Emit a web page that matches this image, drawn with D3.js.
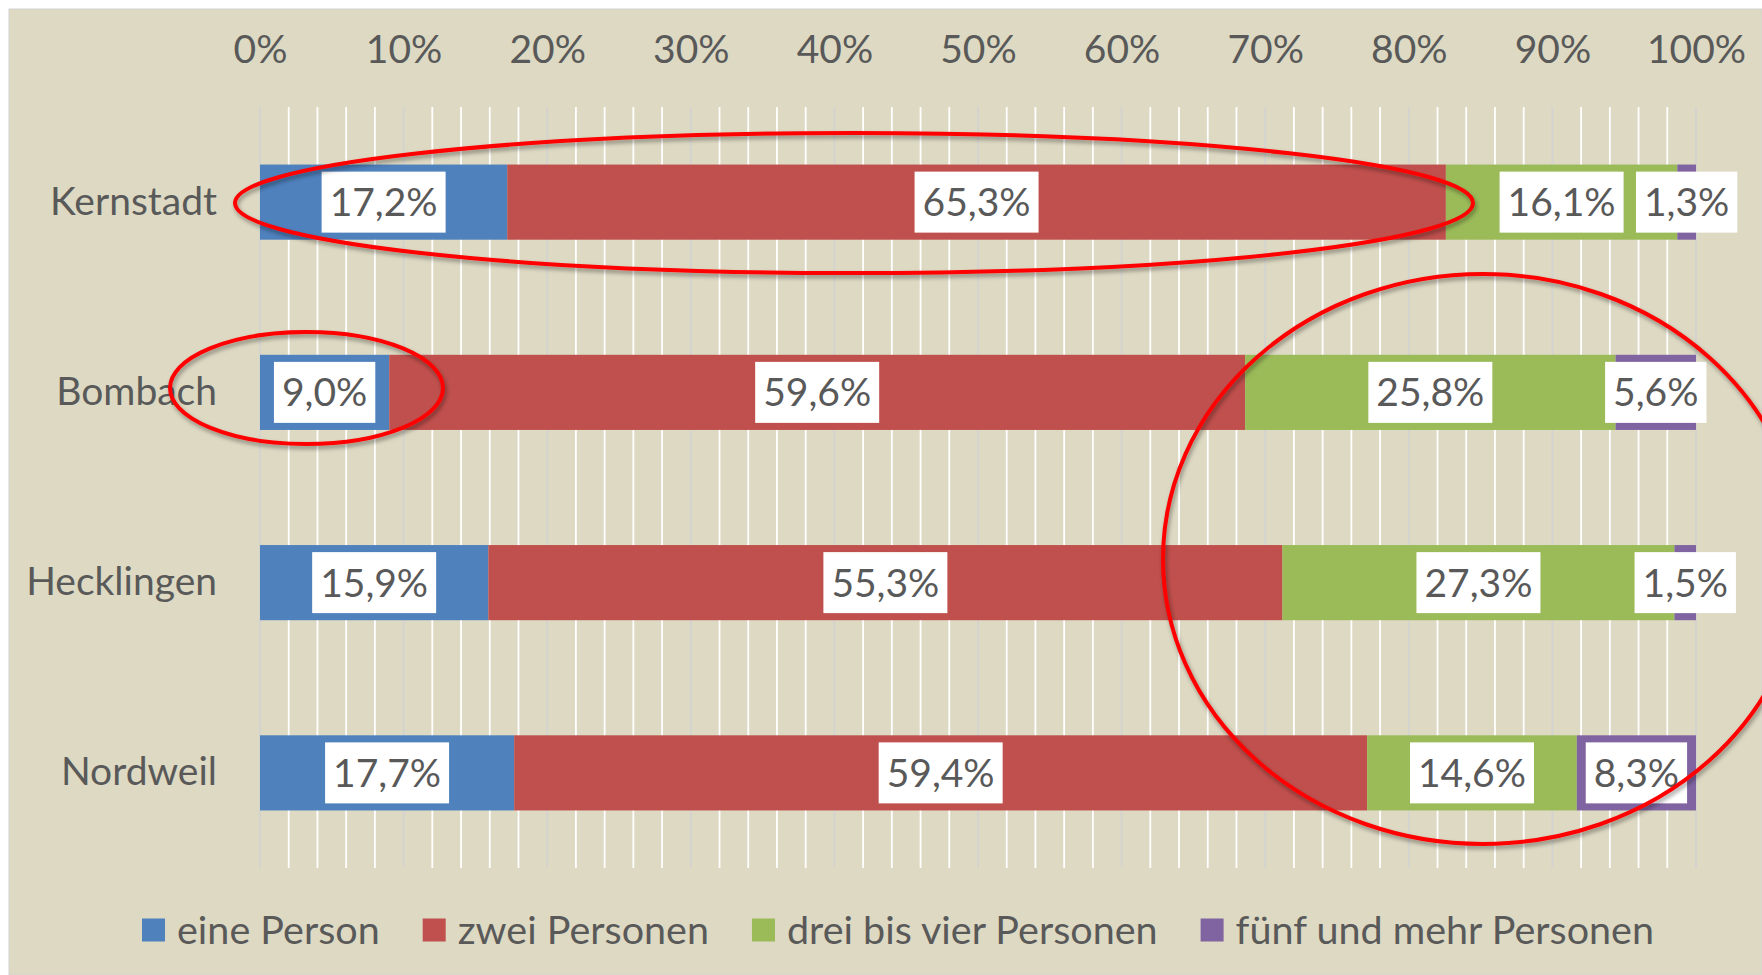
<!DOCTYPE html>
<html>
  <head>
    <meta charset="utf-8">
    <script type="text/javascript" src="https://d3js.org/d3.v7.min.js"></script>
    <style>
      body { margin:0; background:#fff; }
      text { font-family: Lato, "Open Sans", sans-serif; fill:#595959; }
    </style>
  </head>
  <body>
  </body>
  <script>

var orte = ["Kernstadt", "Bombach", "Hecklingen", "Nordweil"];
var gruppen = ["eine Person", "zwei Personen", "drei bis vier Personen", "fünf und mehr Personen"];
var farben = ["#4F81BD", "#C0504D", "#9BBB59", "#8064A2"];

// Anteile in % je Ort, Reihenfolge wie gruppen
var einePerson   = [17.2,  9.0, 15.9, 17.7];
var zweiPersonen = [65.3, 59.6, 55.3, 59.4];
var dreiBisVier  = [16.1, 25.8, 27.3, 14.6];
var fuenfUndMehr = [ 1.3,  5.6,  1.5,  8.3];

var achsenTicks = [0, 0.1, 0.2, 0.3, 0.4, 0.5, 0.6, 0.7, 0.8, 0.9, 1];

var W = 1762, H = 975;
var fs = 39;

var serien = [einePerson, zweiPersonen, dreiBisVier, fuenfUndMehr];
var tabelle = orte.map(function(o, i){
  var row = {ort: o};
  gruppen.forEach(function(g, j){ row[g] = serien[j][i]; });
  return row;
});

var svg = d3.select("body").append("svg").attr("width", W).attr("height", H);

var defs = svg.append("defs");
defs.append("filter").attr("id", "schatten")
  .attr("x", "-10%").attr("y", "-10%").attr("width", "120%").attr("height", "130%")
  .append("feDropShadow")
  .attr("dx", 1.5).attr("dy", 3).attr("stdDeviation", 2.2)
  .attr("flood-color", "#000").attr("flood-opacity", 0.38);

svg.append("rect").attr("x", 9).attr("y", 9).attr("width", W - 9).attr("height", H - 9)
  .attr("fill", "#DDD9C3").attr("stroke", "#d4d4d4").attr("stroke-width", 1);

var x = d3.scaleLinear().domain([0, 1]).range([260, 1696]);
var y = d3.scaleBand().domain(orte).range([107, 868]).paddingInner(0.605).paddingOuter(0.3025);

// gitter: minor alle 2 %, major alle 10 %
var gitter = d3.range(0, 51).map(function(i){ return i / 50; });
svg.append("g").selectAll("line").data(gitter).enter().append("line")
  .attr("x1", function(d){ return x(d); }).attr("x2", function(d){ return x(d); })
  .attr("y1", 107).attr("y2", 868)
  .attr("stroke", function(d, i){ return i % 5 === 0 ? "#D3D3D0" : "#FFFFFF"; })
  .attr("stroke-width", 1.8);

var stack = d3.stack().keys(gruppen).offset(d3.stackOffsetExpand);
var lagen = stack(tabelle);

var ebenen = svg.append("g").selectAll("g").data(lagen).enter().append("g")
  .attr("fill", function(d, i){ return farben[i]; });

ebenen.selectAll("rect").data(function(d){ return d; }).enter().append("rect")
  .attr("x", function(d){ return x(d[0]); })
  .attr("y", function(d){ return y(d.data.ort); })
  .attr("width", function(d){ return x(d[1]) - x(d[0]); })
  .attr("height", y.bandwidth());

var xAchse = svg.append("g").attr("transform", "translate(0,63)")
  .call(d3.axisTop(x).tickValues(achsenTicks).tickFormat(d3.format(".0%")).tickSize(0).tickPadding(0));
xAchse.select(".domain").remove();
xAchse.selectAll("text").style("font-size", fs + "px").style("font-family", null);

var yAchse = svg.append("g").attr("transform", "translate(" + x(0) + ",0)")
  .call(d3.axisLeft(y).tickSize(0).tickPadding(43));
yAchse.select(".domain").remove();
yAchse.selectAll("text").style("font-size", fs + "px").style("font-family", null);

// beschriftung mit weissen kaesten
var de = d3.formatLocale({decimal: ",", thousands: ".", grouping: [3], currency: ["", " €"]});
var f1 = de.format(".1f");

var labels = svg.append("g");
lagen.forEach(function(lage){
  lage.forEach(function(d){
    var wert = d.data[lage.key];
    var cx = (x(d[0]) + x(d[1])) / 2;
    var cy = y(d.data.ort) + y.bandwidth() / 2;
    var g = labels.append("g");
    var box = g.append("rect").attr("fill", "#fff");
    var t = g.append("text").attr("x", cx).attr("y", cy).attr("dy", "0.36em")
      .attr("text-anchor", "middle").style("font-size", fs + "px")
      .text(f1(wert) + "%");
    var bb = t.node().getBBox();
    box.attr("x", cx - bb.width / 2 - 8).attr("width", bb.width + 16)
      .attr("y", cy - 30.5).attr("height", 61);
  });
});

// rote markierungen
var kringel = [
  {cx: 854, cy: 203, rx: 619, ry: 70},
  {cx: 306.5, cy: 388, rx: 136.5, ry: 56},
  {cx: 1483, cy: 559, rx: 320, ry: 285}
];
svg.append("g").attr("filter", "url(#schatten)").selectAll("ellipse").data(kringel).enter().append("ellipse")
  .attr("cx", function(d){ return d.cx; }).attr("cy", function(d){ return d.cy; })
  .attr("rx", function(d){ return d.rx; }).attr("ry", function(d){ return d.ry; })
  .attr("fill", "none").attr("stroke", "#FF0000").attr("stroke-width", 4);

// legende
var legende = svg.append("g");
var items = legende.selectAll("g").data(gruppen).enter().append("g");
items.append("rect").attr("width", 23).attr("height", 23).attr("y", 918.5)
  .attr("fill", function(d, i){ return farben[i]; });
items.append("text").attr("x", 35).attr("y", 930).attr("dy", "0.36em")
  .style("font-size", "39.5px").text(function(d){ return d; });
var pos = 0, breiten = [];
items.each(function(){
  var w = d3.select(this).select("text").node().getComputedTextLength();
  breiten.push(35 + w);
});
var gesamt = d3.sum(breiten) + 43 * (breiten.length - 1);
pos = 898 - gesamt / 2;
items.attr("transform", function(d, i){
  var p = pos;
  pos += breiten[i] + 43;
  return "translate(" + p + ",0)";
});

  </script>
</html>
